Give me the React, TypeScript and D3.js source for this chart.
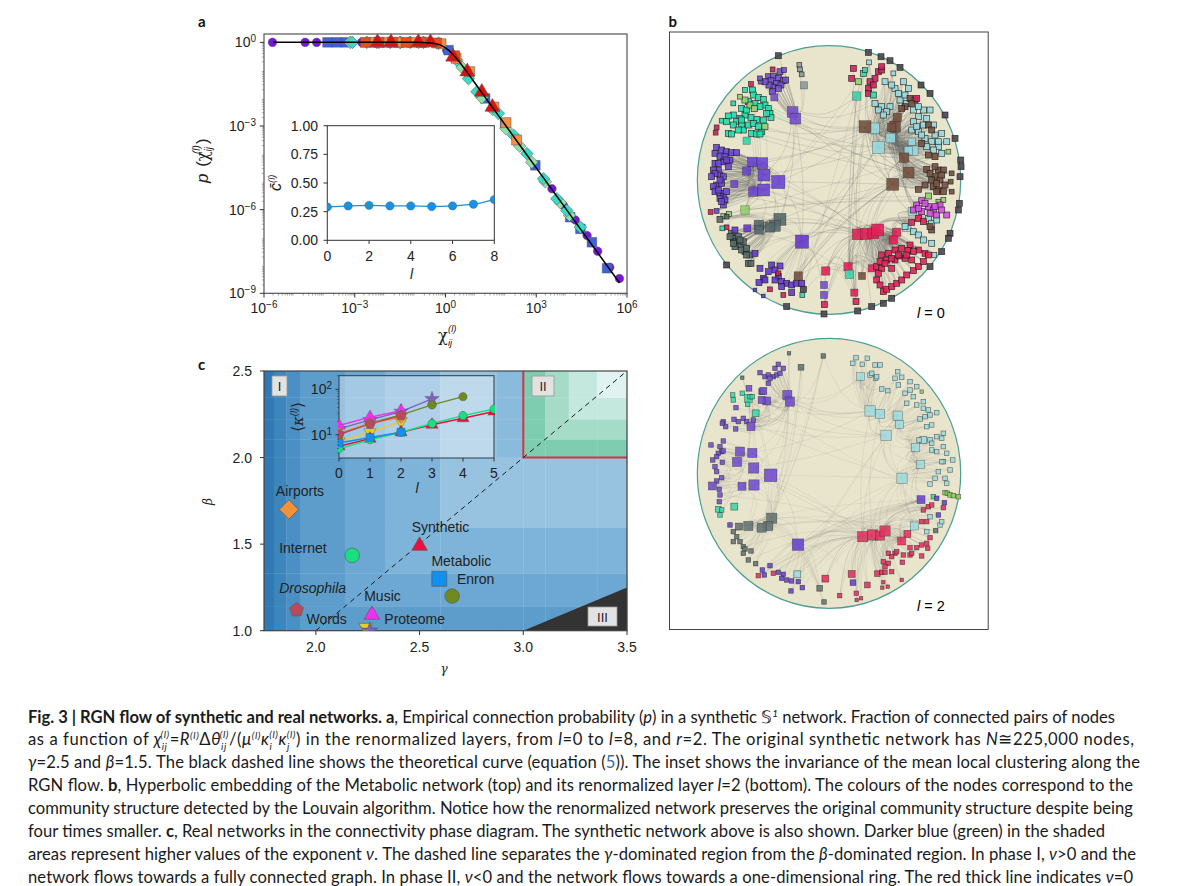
import * as d3 from "d3";

// ---- panel a: connection probability, values are log10
const layer0Chi = [-5.72, -4.64, -4.26, -3.43, -2.77, -2.2, 0.04, 3.52, 3.9, 4.29, 4.68, 5.03, 5.43, 5.75];
const layer0P = [0, 0, 0, 0, 0, 0, -0.28, -5.25, -5.85, -6.37, -6.93, -7.49, -8.07, -8.47];
const layer1Chi = [-3.9, -3.6, -3.3, 0.1, 1.31, 1.97, 2.97, 4.12, 4.46, 4.84, 5.34];
const layer1P = [0, 0, 0, -0.28, -2.01, -2.91, -4.41, -6.27, -6.69, -7.17, -8.1];
const layer2Chi = [-3.08, -2.6, -2.27, -1.83, -1.5, -1.17, -0.73, -0.23, 0.37, 0.76, 1.04, 1.75, 2.25, 2.69, 3.24, 3.68, 4.01, 4.46];
const layer2P = [0, 0, 0, 0, 0, 0, 0, -0.03, -0.64, -1.3, -1.77, -2.55, -3.33, -3.99, -4.89, -5.61, -6.03, -6.63];
const layer3Chi = [-3.15, -2.2, -1.5, -0.9, 0.55, 1.2, 1.55, 2.0, 2.45, 2.85, 3.3, 3.8, 4.1];
const layer3P = [0, 0, 0, 0, -0.9, -1.98, -2.4, -3.1, -3.72, -4.3, -5, -5.75, -6.2];
const layer4Chi = [-2.35, -1.95, -1.55, -1.1, -0.7, -0.15, 0.35, 0.8, 1.6, 2.0, 2.35];
const layer4P = [0, 0, 0, 0, 0, -0.05, -0.57, -1.05, -2.32, -2.88, -3.5];
const layer5Chi = [-2.65, -2.2, -1.75, -1.3, -0.8, -0.3, 0.3];
const layer5P = [0, 0, 0, 0, 0, -0.02, -0.48];
const layer6Chi = [-2.25, -1.8, -0.9, -0.5, 0.25, 0.72, 1.2, 1.55];
const layer6P = [0, 0, 0, 0, -0.52, -1.05, -1.78, -2.32];
const curveChi = [-5.7, -1, -0.5, -0.2, 0, 0.2, 0.4, 0.7, 1, 2, 3, 4, 5, 5.75];
const curveP = [0, 0, -0.02, -0.08, -0.2, -0.38, -0.62, -1.05, -1.5, -3, -4.5, -6, -7.5, -8.62];

const clusteringLayers = [0, 1, 2, 3, 4, 5, 6, 7, 8];
const clustering = [0.29, 0.3, 0.305, 0.3, 0.3, 0.295, 0.3, 0.315, 0.355];

// ---- panel c: phase diagram
const gammaEdges = [1.75, 1.797, 1.858, 1.923, 2.14, 2.333, 2.6, 2.873, 3.0, 3.106, 3.219, 3.356, 3.5];
const betaEdges = [1.0, 1.139, 1.331, 1.595, 2.0, 2.106, 2.222, 2.347, 2.5];
const phaseLevels = [
  [0, 1, 2, 3, 3, 3, 3, 3, 3, 3, 3, 3],
  [0, 1, 2, 3, 4, 4, 4, 4, 4, 4, 4, 4],
  [0, 1, 2, 3, 4, 5, 5, 5, 5, 5, 5, 5],
  [0, 1, 2, 3, 4, 5, 7, 7, 7, 7, 7, 7],
  [0, 1, 2, 3, 4, 5, 7, 6, 8, 8, 8, 8],
  [0, 1, 2, 3, 4, 5, 7, 6, 8, 9, 9, 9],
  [0, 1, 2, 3, 4, 5, 7, 6, 8, 9, 10, 10],
  [0, 1, 2, 3, 4, 5, 7, 6, 8, 9, 10, 11],
];
const levelColors = ["#2f79b5", "#3d85bd", "#4b90c5", "#5d9dcc", "#6ca8d3", "#7fb4da", "#8abadc", "#97c2e0", "#7fcdb0", "#a5dcc8", "#c4e8dd", "#e0f3f0"];

const networkNames = ["Airports", "Internet", "Synthetic", "Enron", "Metabolic", "Drosophila", "Music", "Proteome", "Words"];
const networkGamma = [1.87, 2.175, 2.5, 2.595, 2.657, 1.907, 2.27, 2.24, 2.26];
const networkBeta = [1.7, 1.435, 1.49, 1.3, 1.2, 1.12, 1.092, 1.02, 1.0];
const networkColors = ["#f0923a", "#18e080", "#e8103c", "#1090f0", "#6f8a1f", "#b84a5a", "#f030f0", "#e8cc30", "#8060c0"];
const networkShapes = ["diamond", "circle", "triangle", "square", "circle", "pentagon", "triangle", "down", "star"];
const networkSizes = [187, 167, 105, 225, 167, 127, 105, 80, 80];

const labelNames = ["Airports", "Internet", "Synthetic", "Metabolic", "Enron", "Drosophila", "Music", "Words", "Proteome"];
const labelGamma = [1.807, 1.823, 2.462, 2.557, 2.68, 1.823, 2.233, 1.955, 2.33];
const labelBeta = [1.78, 1.447, 1.568, 1.372, 1.272, 1.218, 1.173, 1.04, 1.04];

// mean degree along the flow, same order as networkNames
const degreeSeries = [
  [10.9, 18, 24],
  [4.9, 7.8, 11.4, 17.7, 26.5, 37],
  [5.6, 8.2, 11.4, 16.6, 23.2, 32.5],
  [6.6, 8.7, 11.4],
  [10, 18, 27.4, 45.4, 69],
  [10.3, 17.4, 26.5],
  [16, 24.4, 34.1],
  [7.1, 11.4, 19.6],
  [13.5, 21.3, 32.5, 61.4],
];
const degreeOrder = [8, 6, 4, 7, 0, 5, 2, 1, 3];

type Node = number[];
const topVioletUp: Node[] = [[310,200],[325,198],[340,205],[355,212],[318,212],[335,220],[348,225],[325,232],[312,225],[300,215],[322,245],[328,262,6],[345,185],[357,180,4],[362,210],[340,235],[287,215,4],[285,205,4],[383,306,9],[391,326,9]];
const topTeal: Node[] = [[262,240],[265,255],[280,262],[295,268],[250,275],[270,280],[300,285],[310,295],[315,310],[318,322],[295,330],[275,328],[258,322],[240,315],[225,325],[205,315],[190,318],[215,335],[230,345],[205,345],[235,360],[190,370],[200,372],[260,370],[275,372],[290,365],[245,392,6],[170,332,4],[185,335],[205,280,4],[240,240,4],[230,295],[245,300],[285,290],[305,310],[250,345],[220,360],[265,340],[280,350],[230,330],[285,372]];
const topLightGreen: Node[] = [[300,350,5],[255,285,5],[240,270,5],[268,296,5],[240,600,7],[192,612,4],[175,618,4],[580,215,5],[850,425,4],[835,570,4],[820,575,4],[790,558,5],[225,260,4]];
const topVioletLeft: Node[] = [[155,412],[170,420],[150,430],[165,440],[185,425],[200,428],[215,428],[195,450],[175,455],[150,460],[190,470],[160,480],[145,480],[165,495],[150,490],[175,500],[155,525],[145,530],[170,520],[150,545],[165,550],[175,560],[165,565],[180,570],[175,585],[160,540],[208,522,6],[155,603,4],[140,500],[180,440],[160,460],[185,450],[165,510],[185,545],[170,575],[262,456,8],[292,459,9],[245,483,7],[297,495,10],[340,516,11],[265,545,8],[296,540,10]];
const topSlate: Node[] = [[345,628,10],[330,648,9],[315,652,8],[282,645,8],[282,660,7],[165,628,5],[185,620,4],[200,670],[205,685],[215,695],[195,680],[225,705],[240,725],[210,710],[230,720],[245,715],[255,735],[250,760],[258,760],[220,680],[235,695],[205,700],[225,690],[245,735]];
const topSlateUp: Node[] = [[403,165,4],[405,178,4],[410,193,4],[417,226,6]];
const topVioletLow: Node[] = [[247,655,6],[210,660],[270,730],[320,765],[345,768],[330,780],[310,785],[295,805],[285,775],[340,800],[350,815],[365,820],[380,825],[395,820],[410,820],[300,810],[282,818],[330,810],[350,830],[380,848],[295,858,3],[270,840,3],[411,695,11]];
const topCrimson: Node[] = [[578,673,9],[603,672,9],[625,670,9],[638,660,10],[695,667,7],[685,690,7],[620,775,6],[635,770],[650,735],[670,730],[690,720],[710,715],[735,705],[760,720],[780,730],[645,755],[665,750],[690,750],[720,745],[740,750],[650,775],[680,775],[635,810],[645,825],[655,845],[665,838],[680,830],[695,820],[710,810],[725,795],[745,782],[760,770],[775,755],[790,735],[703,738],[730,722],[660,760],[700,735],[745,725],[725,735],[680,745],[640,790],[482,783,7],[478,884,5],[549,770,7],[568,848,6],[573,875,5],[740,637],[760,625],[775,635]];
const topCrimsonUp: Node[] = [[565,175],[560,205],[640,185],[650,180],[630,205],[615,215],[610,235],[625,225],[610,250],[755,265],[650,170],[323,178,4],[258,222,4],[155,352,4],[152,368,4],[137,606,4],[185,652,4],[355,855,4],[315,838,4],[340,790,4]];
const topCyan: Node[] = [[627,355,9],[640,412,10],[677,384,8],[745,422,8],[730,422,7],[740,395,6],[630,280],[650,290],[640,300],[675,290],[665,305],[655,315],[690,235],[715,215],[730,235],[705,270],[725,280],[745,300],[760,320],[775,300],[795,300],[745,335],[760,365],[780,385],[810,375],[830,370],[800,395],[820,410],[785,410],[740,360],[805,420],[830,430],[775,345],[680,225],[660,215],[685,190,4],[612,157,4],[700,250],[720,255],[760,290],[785,325],[805,345],[820,395],[845,395],[755,350],[770,375]];
const topCyanLow: Node[] = [[725,652,7],[742,605,7],[720,650],[745,665],[760,675],[775,690],[800,700],[808,735,4],[790,625],[800,640],[815,630]];
const topBrown: Node[] = [[600,350,10],[697,322,7],[690,350,9],[680,352,7],[717,443,8],[731,488,9],[683,523,10],[735,265],[750,270],[720,290],[740,280],[710,295],[790,345],[800,360],[770,400],[790,435],[810,440],[785,478],[820,480],[835,480],[810,500],[800,510],[825,510],[840,525],[805,530],[820,540],[780,525],[760,538],[815,545],[810,470],[830,495],[795,490],[815,520],[835,545],[857,515,4],[860,545,4],[860,490,4],[800,660],[795,650],[400,798,7],[591,798,6]];
const topMagenta: Node[] = [[770,572],[755,585],[745,600],[790,590],[805,600],[825,585],[770,605],[795,610],[815,615],[845,615],[780,580],[760,595],[810,590],[830,600]];
const topExtras: Node[] = [[595,190,5],[600,180,4],[625,255,5],[575,258,7],[172,655,4],[412,855,4],[553,793,7]];
const topViolet2: Node[] = [[477,825,6],[477,855,6]];
const topRim: Node[] = [[340,137],[610,127],[648,140],[675,152],[705,172],[768,225],[795,250],[840,315],[870,385],[887,450],[888,470],[885,500],[883,580],[880,600],[855,670],[850,685],[830,725],[795,770],[680,865],[655,880],[620,890],[578,903],[365,890],[185,765],[477,912],[415,838]];

const botVioletUp: Node[] = [[285,143],[300,155],[310,150],[325,155],[335,150],[345,145],[330,130],[355,130],[340,118],[310,175],[315,160],[290,200,5],[305,228,7],[290,225,6],[295,198,6],[367,210,8],[375,230,8],[252,190,5],[213,248],[207,283],[220,290],[235,280],[245,290],[258,305,7],[265,285],[175,290],[182,305],[172,295],[212,312]];
const botTeal: Node[] = [[203,210],[205,225],[232,205],[250,220,7],[255,215],[248,238],[272,265,6],[262,215],[208,545,6],[160,553,5],[170,555],[165,570],[805,515]];
const botVioletLeft: Node[] = [[138,360],[175,348],[165,365],[170,380],[160,385],[175,378],[155,395],[143,405],[172,412],[150,425],[155,440],[170,458],[155,468],[142,483,7],[163,493],[165,510],[163,530],[225,380,8],[262,384,8],[216,411,8],[266,429,9],[317,451,11],[231,484,7],[267,480,9]];
const botSlate: Node[] = [[320,580,9],[310,603,8],[290,608,8],[250,603,8],[222,605,6],[205,620],[215,635],[205,650],[225,650],[235,665],[240,672],[258,678],[235,685],[250,705],[272,716],[372,85,3],[408,127,5],[475,93,4],[232,158,3],[464,790,5],[477,831,4],[812,617]];
const botVioletLow: Node[] = [[195,600],[399,659,10],[315,722],[292,735],[298,750],[340,742],[355,748],[350,760],[365,765],[380,768],[400,770],[412,788],[378,798],[564,773,5],[768,524,7],[815,520],[838,533],[820,570]];
const botCrimson: Node[] = [[593,635,9],[623,630,9],[645,632,8],[660,618,9],[727,627,6],[710,648,7],[481,761,6],[524,812,4],[560,747,6],[607,780,5],[574,805,4],[575,825,3],[588,820,3],[637,746,5],[650,742],[655,772,3],[652,788,3],[668,785,3],[710,765,3],[670,685],[690,685],[695,680],[680,695],[715,690],[712,712],[735,690],[740,685],[655,710],[670,715],[660,725],[680,740],[660,742],[735,668],[755,668],[770,660],[785,655],[788,670],[770,693],[795,638],[770,590],[785,590],[775,555],[790,545],[800,540],[835,548],[280,752],[325,745]];
const botCyan: Node[] = [[615,258,9],[645,267,8],[663,331,9],[698,272,8],[703,298,7],[711,460,9],[767,418,7],[752,367,7],[775,345,6],[563,115],[573,98],[592,118],[607,100],[587,155,7],[615,150],[630,120],[645,120],[620,145],[632,160],[650,192],[668,197],[635,155],[698,140],[710,157],[690,160],[700,180],[735,170],[755,185],[720,205],[735,195],[745,215],[725,235],[755,240],[775,230],[790,255],[815,263],[765,282],[780,275],[795,270],[785,305],[800,300],[795,345],[815,335],[835,325],[830,340],[815,380],[835,365],[845,385],[800,375],[835,410],[863,405],[820,440],[855,435],[840,460],[795,477],[810,460],[845,475],[830,410],[762,345],[800,355],[775,250],[795,575],[785,620],[825,600],[830,590],[748,603,7],[397,748,6]];
const botGreen: Node[] = [[840,503],[847,505],[855,510],[865,512],[880,515],[770,200,3]];

const topGroups: [Node[], string][] = [
  [topRim, "#4a4550"], [topVioletUp, "#7350cc"], [topSlateUp, "#8a9a98"], [topTeal, "#22dcae"], [topLightGreen, "#8fd070"],
  [topVioletLeft, "#6a46d0"], [topSlate, "#56696c"], [topVioletLow, "#6438cc"], [topViolet2, "#7350cc"], [topCyan, "#98d8de"],
  [topCyanLow, "#98d8de"], [topBrown, "#74503f"], [topCrimsonUp, "#d0205c"], [topCrimson, "#e02258"], [topMagenta, "#d050e0"], [topExtras, "#3cd0a8"],
];
const botGroups: [Node[], string][] = [
  [botVioletUp, "#7350cc"], [botTeal, "#40d4aa"], [botVioletLeft, "#7350cc"], [botSlate, "#667474"], [botVioletLow, "#6846cc"],
  [botCyan, "#a2dade"], [botCrimson, "#e03562"], [botGreen, "#88cc60"],
];

// long range links between hubs, as x1,y1,x2,y2 on the same reading grid
const topLongLinks = [
  [340,516,345,628],[296,540,330,648],[297,495,315,652],[265,545,282,645],[340,516,411,695],[345,628,411,695],[600,350,578,673],[683,523,578,673],[683,523,603,672],[731,488,625,670],
  [383,306,600,350],[391,326,683,523],[391,326,731,488],[340,516,627,355],[297,495,640,412],[411,695,578,673],[411,695,683,523],[340,516,683,523],[300,350,640,412],[230,350,600,350],
  [250,375,731,488],[320,320,627,355],[390,300,575,258],[390,306,630,280],[411,695,638,660],[411,695,731,488],[345,628,578,673],[345,628,683,523],[340,516,603,672],[477,855,411,695],
  [482,783,578,673],[549,770,603,672],[553,793,625,670],[591,798,638,660],[568,848,578,673],[573,875,603,672],[620,890,625,670],[410,820,578,673],[380,825,640,412],[400,798,683,523],
  [600,350,731,488],[627,355,683,523],[600,350,683,523],[640,412,717,443],[575,258,578,673],[565,175,600,350],[610,235,627,355],[417,226,383,306],[405,178,391,326],[391,326,340,516],
  [383,306,297,495],[383,306,345,628],[391,326,411,695],[340,137,391,326],[292,459,600,350],[262,456,627,355],[296,540,638,660],[330,648,603,672],[282,645,578,673],[315,310,640,412],
  [300,285,600,350],[275,372,717,443],[310,295,731,488],[215,428,603,672],[175,500,578,673],[150,545,625,670],[230,720,578,673],[340,800,640,412],[365,820,683,523],[478,884,482,783],
];
const botLongLinks = [
  [317,451,320,580],[267,480,310,603],[266,429,290,608],[231,484,250,603],[317,451,399,659],[320,580,399,659],[593,635,663,331],[623,630,711,460],[645,632,711,460],[660,618,767,418],
  [367,210,615,258],[375,230,645,267],[375,230,663,331],[317,451,593,635],[317,451,711,460],[266,429,663,331],[262,384,615,258],[399,659,593,635],[399,659,623,630],[399,659,660,618],
  [399,659,711,460],[320,580,593,635],[310,603,660,618],[481,761,593,635],[560,747,623,630],[637,746,645,632],[524,812,593,635],[464,790,399,659],[412,788,593,635],[378,798,663,331],
  [375,230,587,155],[367,210,587,155],[408,127,375,230],[475,93,375,230],[475,93,615,258],[340,118,367,210],[258,305,663,331],[245,290,711,460],[300,200,615,258],[285,143,375,230],
  [663,331,711,460],[615,258,663,331],[645,267,711,460],[698,272,711,460],[593,635,615,258],[623,630,645,267],[280,752,399,659],[250,705,593,635],[235,665,623,630],[165,510,660,618],
  [143,405,593,635],[172,412,623,630],[317,451,367,210],[266,429,375,230],[262,384,367,210],[231,484,320,580],[272,265,663,331],[250,220,615,258],[250,603,399,659],[222,605,399,659],
];

const captionFont = "Lato, 'Open Sans', sans-serif";
const plotFont = "'Liberation Sans', Arial, sans-serif";
const greekFont = "'DejaVu Serif', serif";

const chiX = d3.scaleLog([1e-6, 1e6], [264, 627]);
const pY = d3.scaleLog([1e-9, 10 ** 0.3], [293.3, 34]);
const insetAX = d3.scaleLinear([0, 8], [327.3, 494.3]);
const insetAY = d3.scaleLinear([0, 1], [240.3, 125.7]);
const gammaX = d3.scaleLinear([1.75, 3.5], [264, 627]);
const betaY = d3.scaleLinear([1, 2.5], [630.7, 371]);
const insetCX = d3.scaleLinear([0, 5], [339, 494]);
const insetCY = d3.scaleLog([10 ** 0.49, 10 ** 2.3], [458, 375.7]);

const readX = d3.scaleLinear([97, 887], [697.3, 960.7]);
const topReadY = d3.scaleLinear([107, 913], [45.7, 314.3]);
const botReadY = d3.scaleLinear([40, 850], [338.3, 608.3]);

function symbolPath(shape: string, size: number) {
  if (shape === "circle") return d3.symbol(d3.symbolCircle, size)()!;
  if (shape === "square" || shape === "diamond") return d3.symbol(d3.symbolSquare, size)()!;
  if (shape === "triangle" || shape === "down") return d3.symbol(d3.symbolTriangle, size)()!;
  if (shape === "star") return d3.symbol(d3.symbolStar, size)()!;
  // pentagon
  const r = Math.sqrt(size / 2.38);
  return d3.lineRadial().curve(d3.curveLinearClosed)(d3.range(5).map((i) => [(i * 2 * Math.PI) / 5, r]) as [number, number][])!;
}

function Marker({ x, y, shape, size, fill, stroke = "#555", sw = 0.5 }: any) {
  const rot = shape === "diamond" ? 45 : shape === "down" ? 180 : 0;
  return <path d={symbolPath(shape, size)} transform={`translate(${x},${y}) rotate(${rot})`} fill={fill} stroke={stroke} strokeWidth={sw} />;
}

const layers = [
  { chi: layer0Chi, p: layer0P, shape: "circle", size: 58, fill: "#7a14d8" },
  { chi: layer1Chi, p: layer1P, shape: "square", size: 92, fill: "#3f62dc" },
  { chi: layer3Chi, p: layer3P, shape: "diamond", size: 80, fill: "#8fe0a8" },
  { chi: layer2Chi, p: layer2P, shape: "diamond", size: 80, fill: "#36dcc4" },
  { chi: layer4Chi, p: layer4P, shape: "square", size: 100, fill: "#f5903f" },
  { chi: layer5Chi, p: layer5P, shape: "square", size: 100, fill: "#ee4a20" },
  { chi: layer6Chi, p: layer6P, shape: "triangle", size: 95, fill: "#e01010" },
];

function PanelA() {
  const decades = d3.range(-6, 7);
  const minorX = decades.slice(0, -1).flatMap((d) => d3.range(2, 10).map((m) => m * 10 ** d));
  const minorY = d3.range(-9, 0).flatMap((d) => d3.range(2, 10).map((m) => m * 10 ** d));
  const line = d3.line<number>((d) => chiX(10 ** d), (_, i) => pY(10 ** curveP[i])).curve(d3.curveMonotoneX);
  const inLine = d3.line<number>((d) => insetAX(d), (_, i) => insetAY(clustering[i])).curve(d3.curveMonotoneX);
  return (
    <g fontFamily={plotFont} fontSize={14} fill="#222">
      <defs>
        <clipPath id="insetAClip"><rect x={327.3} y={125.7} width={167} height={114.6} /></clipPath>
      </defs>
      <rect x={264} y={34} width={363} height={259.3} fill="#fff" stroke="#555" strokeWidth={1.2} />
      {minorX.map((v) => <line key={v} x1={chiX(v)} x2={chiX(v)} y1={293.3} y2={295.5} stroke="#444" strokeWidth={0.5} />)}
      {minorY.map((v) => <line key={v} y1={pY(v)} y2={pY(v)} x1={261.8} x2={264} stroke="#444" strokeWidth={0.4} />)}
      {[-6, -3, 0, 3, 6].map((d) => (
        <g key={d}>
          <line x1={chiX(10 ** d)} x2={chiX(10 ** d)} y1={293.3} y2={297.5} stroke="#333" />
          <text x={chiX(10 ** d)} y={313} textAnchor="middle">10<tspan dy={-5} fontSize={10}>{d < 0 ? `−${-d}` : d}</tspan></text>
        </g>
      ))}
      {[0, -3, -6, -9].map((d) => (
        <g key={d}>
          <line x1={259.8} x2={264} y1={pY(10 ** d)} y2={pY(10 ** d)} stroke="#333" />
          <text x={256} y={pY(10 ** d) + 5} textAnchor="end">10<tspan dy={-5} fontSize={10}>{d < 0 ? `−${-d}` : d}</tspan></text>
        </g>
      ))}
      {layers.map((s, j) => s.chi.map((c, i) => (
        <Marker key={`${j}-${i}`} x={chiX(10 ** c)} y={pY(10 ** s.p[i])} shape={s.shape} size={s.size} fill={s.fill} />
      )))}
      <path d={line(curveChi)!} fill="none" stroke="#000" strokeWidth={1.5} />
      <text x={438} y={341} fontFamily={greekFont} fontSize={16}>χ</text>
      <text x={448} y={346} fontSize={9.5} fontStyle="italic">ij</text>
      <text x={448} y={332} fontSize={9.5} fontStyle="italic">(l)</text>
      <text transform="translate(208,183) rotate(-90)" fontSize={17}>
        <tspan fontStyle="italic">p</tspan> <tspan dx={2}>(</tspan><tspan fontFamily={greekFont} fontSize={16}>χ</tspan>
        <tspan fontSize={10} fontStyle="italic" dy={4}>ij</tspan><tspan fontSize={10} fontStyle="italic" dx={-7} dy={-12}>(l)</tspan><tspan dy={8} dx={1}>)</tspan>
      </text>

      <rect x={327.3} y={125.7} width={167} height={114.6} fill="#fff" stroke="#333" strokeWidth={1} />
      <g clipPath="url(#insetAClip)">
        <path d={inLine(clusteringLayers)!} fill="none" stroke="#1b8fe0" strokeWidth={1.3} />
        {clusteringLayers.map((l, i) => <circle key={l} cx={insetAX(l)} cy={insetAY(clustering[i])} r={4.2} fill="#1b8fe0" stroke="#2a6a9a" strokeWidth={0.4} />)}
      </g>
      {[0, 2, 4, 6, 8].map((t) => (
        <g key={t}>
          <line x1={insetAX(t)} x2={insetAX(t)} y1={240.3} y2={244} stroke="#333" />
          <text x={insetAX(t)} y={261} textAnchor="middle">{t}</text>
        </g>
      ))}
      {[0, 0.25, 0.5, 0.75, 1].map((t) => (
        <g key={t}>
          <line x1={323.5} x2={327.3} y1={insetAY(t)} y2={insetAY(t)} stroke="#333" />
          <text x={318} y={insetAY(t) + 5} textAnchor="end">{t.toFixed(2)}</text>
        </g>
      ))}
      <text x={411.5} y={279} textAnchor="middle" fontStyle="italic">l</text>
      <text transform="translate(281,191) rotate(-90)" fontSize={16} fontStyle="italic">c̄<tspan fontSize={9.5} dy={-6}>(l)</tspan></text>
    </g>
  );
}

function PanelC() {
  const deg = d3.line<number>((_, i) => insetCX(i), (d) => insetCY(d));
  return (
    <g fontFamily={plotFont} fontSize={14} fill="#222">
      <defs>
        <clipPath id="phaseClip"><rect x={264} y={371} width={363} height={259.7} /></clipPath>
        <clipPath id="insetCClip"><rect x={338} y={375.7} width={157} height={82.3} /></clipPath>
      </defs>
      {phaseLevels.map((row, r) => row.map((lv, c) => (
        <rect key={`${r}-${c}`} x={gammaX(gammaEdges[c])} y={betaY(betaEdges[r + 1])}
          width={gammaX(gammaEdges[c + 1]) - gammaX(gammaEdges[c]) + 0.3}
          height={betaY(betaEdges[r]) - betaY(betaEdges[r + 1]) + 0.3} fill={levelColors[lv]} />
      )))}
      <path d={d3.line()([[gammaX(3), betaY(1)], [gammaX(3.5), betaY(1.25)], [gammaX(3.5), betaY(1)]])! + "Z"} fill="#333" />
      <path d={d3.line()([[gammaX(3), betaY(2.5)], [gammaX(3), betaY(2)], [gammaX(3.5), betaY(2)]])!} fill="none" stroke="#d8324a" strokeWidth={2} />
      <line x1={gammaX(2)} y1={betaY(1)} x2={gammaX(3.5)} y2={betaY(2.5)} stroke="#1a1a1a" strokeWidth={1} strokeDasharray="5 4" />
      <rect x={264} y={371} width={363} height={259.7} fill="none" stroke="#444" strokeWidth={1.2} />
      <g clipPath="url(#phaseClip)">
        {networkNames.map((n, i) => (
          <Marker key={n} x={gammaX(networkGamma[i])} y={betaY(networkBeta[i])} shape={networkShapes[i]}
            size={networkSizes[i]} fill={networkColors[i]} stroke="#555" sw={0.6} />
        ))}
      </g>
      {labelNames.map((n, i) => (
        <text key={n} x={gammaX(labelGamma[i])} y={betaY(labelBeta[i])} fontStyle={n === "Drosophila" ? "italic" : "normal"}>{n}</text>
      ))}
      {[["I", 272, 376, 15, 20], ["II", 532, 376, 22, 20], ["III", 588, 607, 29, 19]].map(([t, x, y, w, h]: any) => (
        <g key={t}>
          <rect x={x} y={y} width={w} height={h} fill="#e2e2e2" stroke="#999" strokeWidth={0.8} />
          <text x={x + w / 2} y={y + h / 2 + 5} textAnchor="middle" fontSize={13}>{t}</text>
        </g>
      ))}
      {[2, 2.5, 3, 3.5].map((t) => (
        <g key={t}>
          <line x1={gammaX(t)} x2={gammaX(t)} y1={630.7} y2={635} stroke="#333" />
          <text x={gammaX(t)} y={652} textAnchor="middle">{t.toFixed(1)}</text>
        </g>
      ))}
      {[1, 1.5, 2, 2.5].map((t) => (
        <g key={t}>
          <line x1={260} x2={264} y1={betaY(t)} y2={betaY(t)} stroke="#333" />
          <text x={252} y={betaY(t) + 5} textAnchor="end">{t.toFixed(1)}</text>
        </g>
      ))}
      <text x={444} y={673} fontFamily={greekFont} fontStyle="italic" fontSize={12} textAnchor="middle">γ</text>
      <text transform="translate(212,505) rotate(-90)" fontFamily={greekFont} fontStyle="italic" fontSize={12}>β</text>

      <rect x={339} y={375.7} width={155} height={82.3} fill="#fff" fillOpacity={0.38} stroke="#2d3b4a" strokeWidth={1} />
      <g clipPath="url(#insetCClip)">
        {degreeOrder.map((i) => (
          <g key={i}>
            <path d={deg(degreeSeries[i])!} fill="none" stroke={networkColors[i]} strokeWidth={1.4} />
            {degreeSeries[i].map((v, j) => (
              <Marker key={j} x={insetCX(j)} y={insetCY(v)} shape={networkShapes[i]} size={networkShapes[i] === "circle" ? 55 : 66} fill={networkColors[i]} stroke="#555" sw={0.4} />
            ))}
          </g>
        ))}
      </g>
      {[0, 1, 2, 3, 4, 5].map((t) => (
        <g key={t}>
          <line x1={insetCX(t)} x2={insetCX(t)} y1={458} y2={461.5} stroke="#333" />
          <text x={insetCX(t)} y={478} textAnchor="middle">{t}</text>
        </g>
      ))}
      {[1, 2].map((d) => (
        <g key={d}>
          <line x1={335.5} x2={339} y1={insetCY(10 ** d)} y2={insetCY(10 ** d)} stroke="#333" />
          <text x={332} y={insetCY(10 ** d) + 5} textAnchor="end">10<tspan dy={-5} fontSize={10}>{d}</tspan></text>
        </g>
      ))}
      {[4, 5, 6, 7, 8, 9, 20, 30, 40, 50, 60, 70, 80, 90, 200].map((v) => (
        <line key={v} x1={337} x2={339} y1={insetCY(v)} y2={insetCY(v)} stroke="#333" strokeWidth={0.5} />
      ))}
      <text x={417} y={493} textAnchor="middle" fontStyle="italic">l</text>
      <text transform="translate(303,432) rotate(-90)" fontSize={16}>⟨<tspan fontFamily={greekFont} fontStyle="italic" fontSize={15}>κ</tspan><tspan fontSize={9.5} fontStyle="italic" dy={-6}>(l)</tspan><tspan dy={6}>⟩</tspan></text>
    </g>
  );
}

function Disk({ groups, longLinks, readY, k0, scale, nearest, linkOpacity, edgeOpacity }: any) {
  const cy = (readY.range()[0] + readY.range()[1]) / 2;
  const ry = (readY.range()[1] - readY.range()[0]) / 2;
  const cx = 829;
  const curve = d3.line().curve(d3.curveBasis);
  const arc = (x1: number, y1: number, x2: number, y2: number) => {
    const ax = readX(x1), ay = readY(y1), bx = readX(x2), by = readY(y2);
    const mx = (ax + bx) / 2, my = (ay + by) / 2;
    return curve([[ax, ay], [cx + (mx - cx) * 0.8, cy + (my - cy) * 0.8], [bx, by]])!;
  };
  // every node of a group is tied to the closest big nodes of that group
  const local: number[][] = [];
  groups.forEach(([nodes]: any) => {
    const hubs: Node[] = nodes.filter((n: Node) => (n[2] ?? k0) >= 7);
    nodes.forEach((n: Node) => {
      const dist = (h: Node) => Math.hypot(h[0] - n[0], h[1] - n[1]);
      const close = hubs.filter((h) => h !== n).sort((a, c) => dist(a) - dist(c)).slice(0, nearest);
      close.forEach((h) => local.push([n[0], n[1], h[0], h[1]]));
    });
  });
  return (
    <g>
      <ellipse cx={cx} cy={cy} rx={131.7} ry={ry} fill="#e9e5cd" stroke="#4a9e92" strokeWidth={1.2} />
      <g fill="none" stroke="#666" strokeWidth={0.5}>
        {local.map((l, i) => <path key={i} d={arc(l[0], l[1], l[2], l[3])} opacity={linkOpacity} />)}
        {longLinks.map((l: number[], i: number) => <path key={i} d={arc(l[0], l[1], l[2], l[3])} opacity={linkOpacity * 1.3} />)}
      </g>
      {groups.map(([nodes, color]: any, g: number) => nodes.map((n: Node, i: number) => {
        const k = (n[2] ?? k0) * scale;
        return <rect key={`${g}-${i}`} x={readX(n[0]) - k / 2} y={readY(n[1]) - k / 2} width={k} height={k} fill={color} fillOpacity={0.9} stroke="#161616" strokeOpacity={k < 7 ? edgeOpacity : 0.45} strokeWidth={k < 7 ? 0.7 : 0.6} />;
      }))}
    </g>
  );
}

function PanelB() {
  return (
    <g fontFamily={plotFont}>
      <rect x={669.5} y={32} width={318.7} height={597.5} fill="#fff" stroke="#444" strokeWidth={1} />
      <Disk groups={topGroups} longLinks={topLongLinks} readY={topReadY} k0={5} scale={1.2} nearest={5} linkOpacity={0.3} edgeOpacity={0.8} />
      <Disk groups={botGroups} longLinks={botLongLinks} readY={botReadY} k0={4} scale={1.15} nearest={3} linkOpacity={0.17} edgeOpacity={0.55} />
      <text x={917} y={318} fontSize={14.5}><tspan fontStyle="italic">l</tspan> = 0</text>
      <text x={917} y={611} fontSize={14.5}><tspan fontStyle="italic">l</tspan> = 2</text>
    </g>
  );
}

type Seg = { t: string; b?: boolean; i?: boolean; dy?: number; s?: number; c?: string; dx?: number };
const r = (t: string): Seg => ({ t });
const b = (t: string): Seg => ({ t, b: true });
const i = (t: string): Seg => ({ t, i: true });
const sup = (t: string, dy = -6): Seg => ({ t, i: true, s: 10, dy });
const down = (t: string, dy: number, dx = 0): Seg => ({ t, i: true, s: 10, dy, dx });

const captionLines: [Seg[], number][] = [
  [[b("Fig. 3 | RGN flow of synthetic and real networks. a"), r(", Empirical connection probability ("), i("p"), r(") in a synthetic 𝕊"), sup("1"), { t: " network. Fraction of connected pairs of nodes", dy: 6 }], 1115],
  [[r("as a function of "), i("χ"), down("ij", 5), { t: "(l)", i: true, s: 10, dy: -12, dx: -7 }, { t: "=", dy: 7 }, i("R"), sup("(l)"), { t: "Δ", dy: 6 }, i("θ"), down("ij", 5), { t: "(l)", i: true, s: 10, dy: -12, dx: -7 }, { t: "/(", dy: 7 }, i("μ"), sup("(l)"), { t: "κ", i: true, dy: 6 }, down("i", 5), { t: "(l)", i: true, s: 10, dy: -12, dx: -3 }, { t: "κ", i: true, dy: 7 }, down("j", 5), { t: "(l)", i: true, s: 10, dy: -12, dx: -3 }, { t: ") in the renormalized layers, from ", dy: 7 }, i("l"), r("=0 to "), i("l"), r("=8, and "), i("r"), r("=2. The original synthetic network has "), i("N"), r("≅225,000 nodes,")], 1134],
  [[i("γ"), r("=2.5 and "), i("β"), r("=1.5. The black dashed line shows the theoretical curve (equation ("), { t: "5", c: "#3a6ea5" }, r(")). The inset shows the invariance of the mean local clustering along the")], 1140],
  [[r("RGN flow. "), b("b"), r(", Hyperbolic embedding of the Metabolic network (top) and its renormalized layer "), i("l"), r("=2 (bottom). The colours of the nodes correspond to the")], 1133],
  [[r("community structure detected by the Louvain algorithm. Notice how the renormalized network preserves the original community structure despite being")], 1133],
  [[r("four times smaller. "), b("c"), r(", Real networks in the connectivity phase diagram. The synthetic network above is also shown. Darker blue (green) in the shaded")], 1105],
  [[r("areas represent higher values of the exponent "), i("ν"), r(". The dashed line separates the "), i("γ"), r("-dominated region from the "), i("β"), r("-dominated region. In phase I, "), i("ν"), r(">0 and the")], 1136],
  [[r("network flows towards a fully connected graph. In phase II, "), i("ν"), r("<0 and the network flows towards a one-dimensional ring. The red thick line indicates "), i("ν"), r("=0")], 1133],
];
const captionBaselines = [722.5, 745.4, 768.3, 791.2, 814.1, 837, 859.9, 882.5];

function Caption() {
  return (
    <g fontFamily={captionFont} fontSize={16.6} fill="#1a1a1a">
      {captionLines.map(([segs, end], n) => (
        <text key={n} x={28} y={captionBaselines[n]} textLength={end - 28} lengthAdjust="spacing">
          {segs.map((s, j) => (
            <tspan key={j} fontWeight={s.b ? 700 : 400} fontStyle={s.i ? "italic" : "normal"} fontSize={s.s} dy={s.dy} dx={s.dx} fill={s.c}>{s.t}</tspan>
          ))}
        </text>
      ))}
    </g>
  );
}

export default function App() {
  return (
    <svg width={1200} height={886} style={{ position: "absolute", left: 0, top: 0, background: "#fff" }}>
      <PanelA />
      <PanelB />
      <PanelC />
      <g fontFamily={captionFont} fontSize={15} fontWeight={700} fill="#111">
        <text x={198} y={27}>a</text>
        <text x={668.5} y={27}>b</text>
        <text x={198} y={370}>c</text>
      </g>
      <Caption />
    </svg>
  );
}
